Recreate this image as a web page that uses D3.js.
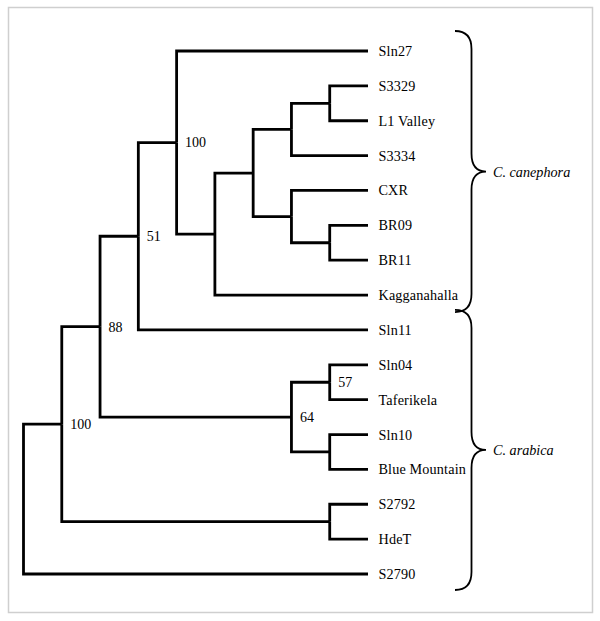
<!DOCTYPE html>
<html>
<head>
<meta charset="utf-8">
<script src="https://cdn.jsdelivr.net/npm/d3@7"></script>
<style>
  html, body { margin: 0; padding: 0; background: #fff; }
  svg { display: block; }
  svg text { font-family: 'Liberation Serif', Tinos, 'Times New Roman', Times, 'DejaVu Serif', serif; fill: #000; }
</style>
</head>
<body>
<svg id="chart" width="600" height="621"></svg>
<script>
// ---- Data ----
// Leaves in top-to-bottom order
const leafNames = ["Sln27", "S3329", "L1 Valley", "S3334", "CXR", "BR09", "BR11", "Kagganahalla",
                   "Sln11", "Sln04", "Taferikela", "Sln10", "Blue Mountain", "S2792", "HdeT", "S2790"];
// Tree topology: node ids and their parents
const nodeIds    = ["root", "n100b", "n88", "n51", "n100a", "nA", "nB", "nC", "nE", "nD", "nF", "n64", "n57", "nG", "nH",
                    "Sln27", "S3329", "L1 Valley", "S3334", "CXR", "BR09", "BR11", "Kagganahalla",
                    "Sln11", "Sln04", "Taferikela", "Sln10", "Blue Mountain", "S2792", "HdeT", "S2790"];
const nodeParents = [null, "root", "n100b", "n88", "n51", "n100a", "nA", "nB", "nC", "nB", "nD", "n88", "n64", "n64", "n100b",
                    "n100a", "nE", "nE", "nC", "nD", "nF", "nF", "nA",
                    "n51", "n57", "n57", "nG", "nG", "nH", "nH", "root"];
// Depth level of each node in the cladogram
const nodeLevels = [0, 1, 2, 3, 4, 5, 6, 7, 8, 7, 8, 7, 8, 8, 8,
                    9, 9, 9, 9, 9, 9, 9, 9, 9, 9, 9, 9, 9, 9, 9, 9];
// Bootstrap support values
const nodeSupport = ["", "100", "88", "51", "100", "", "", "", "", "", "", "64", "57", "", "",
                    "", "", "", "", "", "", "", "", "", "", "", "", "", "", "", ""];
// Groups (brackets)
const groupNames = ["C. canephora", "C. arabica"];
const groupFirst = ["Sln27", "Sln11"];
const groupLast  = ["Kagganahalla", "S2790"];

// ---- Build ----
const rows = nodeIds.map((id, i) => ({ id, parent: nodeParents[i], level: nodeLevels[i], support: nodeSupport[i] }));
const root = d3.stratify().id(d => d.id).parentId(d => d.parent)(rows);

const svg = d3.select("#chart");
svg.append("rect").attr("x", 8.5).attr("y", 7.5).attr("width", 584).attr("height", 605)
   .attr("fill", "#fff").attr("stroke", "#cfcfcf").attr("stroke-width", 1.5);

const x = d3.scaleLinear().domain([0, 9]).range([23.5, 368]);
const y = d3.scalePoint().domain(leafNames).range([51, 574]);

// assign positions
root.eachAfter(n => {
  n.px = x(n.data.level);
  if (!n.children) n.py = y(n.id);
  else n.py = d3.mean([d3.min(n.children, c => c.py), d3.max(n.children, c => c.py)]);
});

const g = svg.append("g");
g.selectAll("path.link")
  .data(root.links())
  .join("path")
  .attr("class", "link")
  .attr("d", l => `M${l.source.px},${l.source.py}V${l.target.py}H${l.target.px}`)
  .attr("fill", "none")
  .attr("stroke", "#000")
  .attr("stroke-width", 2.8)
  .attr("stroke-linejoin", "miter")
  .attr("stroke-linecap", "butt");

// leaf labels
g.selectAll("text.leaf")
  .data(root.leaves())
  .join("text")
  .attr("class", "leaf")
  .attr("x", d => d.px + 10.5)
  .attr("y", d => d.py)
  .attr("dy", "0.35em")
  .attr("font-size", 14.2)
  .attr("letter-spacing", 0.15)
  .text(d => d.id);

// support labels
g.selectAll("text.support")
  .data(root.descendants().filter(d => d.data.support))
  .join("text")
  .attr("class", "support")
  .attr("x", d => d.px + 8.5)
  .attr("y", d => d.py)
  .attr("dy", "0.35em")
  .attr("font-size", 14)
  .text(d => d.data.support);

// braces
const xl = 455, xm = 471.5, xt = 486;
groupNames.forEach((name, i) => {
  const top = y(groupFirst[i]) - 20;
  const bot = y(groupLast[i]) + (i === 0 ? 17 : 16);
  const mid = (top + bot) / 2;
  const r = 18;
  const p = `M${xl},${top} Q${xm},${top} ${xm},${top + r} L${xm},${mid - r} Q${xm},${mid} ${xt},${mid}` +
            ` Q${xm},${mid} ${xm},${mid + r} L${xm},${bot - r} Q${xm},${bot} ${xl},${bot}`;
  svg.append("path").attr("d", p).attr("fill", "none").attr("stroke", "#000").attr("stroke-width", 1.8);
  svg.append("text").attr("x", 493).attr("y", mid).attr("dy", "0.35em")
     .attr("font-size", 14.2).attr("font-style", "italic").text(name);
});
</script>
</body>
</html>
